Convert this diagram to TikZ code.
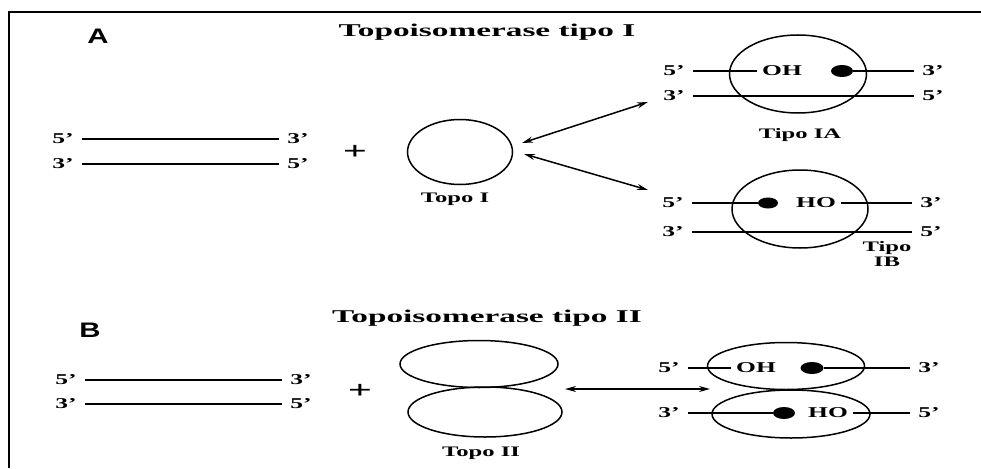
\documentclass[tikz,border=0pt]{standalone}
\usepackage{fontspec}
\setmainfont{Liberation Serif}[FakeStretch=1.7]
\newfontfamily\headfont{Liberation Serif}[FakeStretch=1.85]
\newfontfamily\panelfont{Liberation Sans}[FakeStretch=1.4]
\usetikzlibrary{arrows.meta,shapes.geometric}

\begin{document}
\begin{tikzpicture}[x=1pt, y=-1pt,
  strand/.style={line width=1.9pt},
  lbl/.style={font=\fontsize{15}{15}\selectfont\bfseries, inner xsep=8.5pt, inner ysep=1pt},
  grp/.style={font=\fontsize{15}{15}\selectfont\bfseries, inner xsep=5pt, inner ysep=1pt},
  capt/.style={font=\fontsize{14.5}{15}\selectfont\bfseries, align=center},
  head/.style={font=\headfont\fontsize{18}{18}\selectfont\bfseries, anchor=base},
  panel/.style={font=\panelfont\fontsize{21}{21}\selectfont\bfseries},
  plus/.style={font=\fontsize{25}{25}\selectfont\bfseries},
  enz/.style={draw, ellipse, line width=1.5pt, inner sep=0pt},
  bead/.style={fill, ellipse, inner sep=0pt, minimum width=22pt, minimum height=12pt},
  arr/.style={{Stealth[length=11pt,width=6pt]}-{Stealth[length=11pt,width=6pt]}, line width=1.5pt}
]
\useasboundingbox (0,0) rectangle (981,468);
\draw[line width=2.4pt] (9,468) -- (9,12) -- (981,12);

\node[panel] (pA) at (98,36) {A};
\node[head] (hA) at (487,37) {Topoisomerase tipo I};
\node[lbl] (a5t) at (63,139) {5'};
\node[lbl] (a3t) at (298,139) {3'};
\node[lbl] (a3b) at (63,164) {3'};
\node[lbl] (a5b) at (298,164) {5'};
\draw[strand] (a5t) -- (a3t);
\draw[strand] (a3b) -- (a5b);
\node[plus] (plA) at (355,152) {+};
\node[enz, minimum width=105pt, minimum height=65pt] (topoI) at (460,152) {};
\node[capt] (lTopoI) at (455,199) {Topo I};
\coordinate (aL1) at (522,143);
\coordinate (aR1) at (648,102);
\coordinate (aL2) at (524,154);
\coordinate (aR2) at (648,190);
\draw[arr] (aL1) -- (aR1);
\draw[arr] (aL2) -- (aR2);

\node[enz, minimum width=137pt, minimum height=78pt] (tIA) at (798,74) {};
\node[lbl] (i5t) at (674,71) {5'};
\node[grp] (iOH) at (782,71) {OH};
\node[bead] (iDot) at (842,71) {};
\node[lbl] (i3t) at (933,71) {3'};
\node[lbl] (i3b) at (674,96) {3'};
\node[lbl] (i5b) at (933,96) {5'};
\draw[strand] (i5t) -- (iOH);
\draw[strand] (iDot) -- (i3t);
\draw[strand] (i3b) -- (i5b);
\node[capt] (lIA) at (800,135) {Tipo IA};

\node[enz, minimum width=136pt, minimum height=78pt] (tIB) at (800,209) {};
\node[lbl] (j5t) at (673,203) {5'};
\node[bead, minimum width=20pt, minimum height=11pt] (jDot) at (768,203) {};
\node[grp] (jHO) at (816,203) {HO};
\node[lbl] (j3t) at (931,203) {3'};
\node[lbl] (j3b) at (673,232) {3'};
\node[lbl] (j5b) at (931,232) {5'};
\draw[strand] (j5t) -- (jDot);
\draw[strand] (jHO) -- (j3t);
\draw[strand] (j3b) -- (j5b);
\node[capt] (lIB) at (887,254) {Tipo\\IB};

\node[panel] (pB) at (90,330) {B};
\node[head] (hB) at (487,322) {Topoisomerase tipo II};
\node[lbl] (b5t) at (66,380) {5'};
\node[lbl] (b3t) at (301,380) {3'};
\node[lbl] (b3b) at (66,404) {3'};
\node[lbl] (b5b) at (301,404) {5'};
\draw[strand] (b5t) -- (b3t);
\draw[strand] (b3b) -- (b5b);
\node[plus] (plB) at (360,391) {+};
\node[enz, minimum width=158pt, minimum height=47pt] (topoIIa) at (479,364) {};
\node[enz, minimum width=154pt, minimum height=50pt] (topoIIb) at (485,412) {};
\node[capt] (lTopoII) at (481,453) {Topo II};
\coordinate (bL) at (565,389);
\coordinate (bR) at (710,389);
\draw[arr] (bL) -- (bR);

\node[enz, minimum width=157pt, minimum height=47pt] (eOH) at (786,366) {};
\node[enz, minimum width=158pt, minimum height=48pt] (eHO) at (791,414) {};
\node[lbl] (k5t) at (669,368) {5'};
\node[grp] (kOH) at (756,368) {OH};
\node[bead, minimum width=23pt] (kDot) at (812,368) {};
\node[lbl] (k3t) at (929,368) {3'};
\node[lbl] (k3b) at (669,413) {3'};
\node[bead] (kDot2) at (784,413) {};
\node[grp] (kHO) at (828,413) {HO};
\node[lbl] (k5b) at (929,413) {5'};
\draw[strand] (k5t) -- (kOH);
\draw[strand] (kDot) -- (k3t);
\draw[strand] (k3b) -- (kDot2);
\draw[strand] (kHO) -- (k5b);
\end{tikzpicture}
\end{document}
